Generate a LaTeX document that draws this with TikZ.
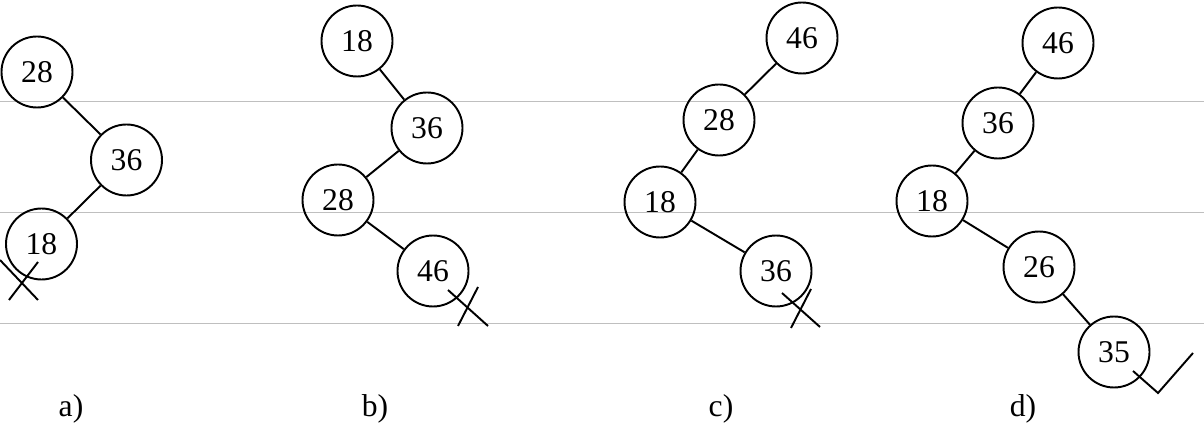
\documentclass[tikz,border=0pt]{standalone}
\usepackage{fontspec}
\setmainfont{Liberation Serif}
\usetikzlibrary{positioning}

\begin{document}
\begin{tikzpicture}[
    line width=1.1pt,
    key/.style={draw, circle, minimum size=1.42cm, inner sep=0pt, font=\fontsize{18}{20}\selectfont},
    edge/.style={line width=1.1pt},
    guide/.style={gray!50, line width=0.5pt},
    cross/.style={line width=1.1pt},
    tag/.style={font=\fontsize{18}{20}\selectfont}
]
    \useasboundingbox (0,0) rectangle (24.08,8.52);

    % lignes horizontales
    \draw[guide] (0,6.50) -- (24.08,6.50);
    \draw[guide] (0,4.28) -- (24.08,4.28);
    \draw[guide] (0,2.06) -- (24.08,2.06);

    % a)
    \node[key] (a28) at (0.74,7.08) {28};
    \node[key] (a36) at (2.53,5.32) {36};
    \node[key] (a18) at (0.83,3.64) {18};
    \draw[edge] (a28) -- (a36);
    \draw[edge] (a36) -- (a18);
    \draw[cross] (0,3.32) -- (0.76,2.52);
    \draw[cross] (0.76,3.28) -- (0.18,2.52);

    % b)
    \node[key] (b18) at (7.14,7.70) {18};
    \node[key] (b36) at (8.54,5.96) {36};
    \node[key] (b28) at (6.76,4.52) {28};
    \node[key] (b46) at (8.66,3.10) {46};
    \draw[edge] (b18) -- (b36);
    \draw[edge] (b36) -- (b28);
    \draw[edge] (b28) -- (b46);
    \draw[cross] (8.96,2.72) -- (9.76,2.00);
    \draw[cross] (9.56,2.78) -- (9.16,2.00);

    % c)
    \node[key] (c46) at (16.04,7.76) {46};
    \node[key] (c28) at (14.38,6.12) {28};
    \node[key] (c18) at (13.20,4.48) {18};
    \node[key] (c36) at (15.52,3.10) {36};
    \draw[edge] (c46) -- (c28);
    \draw[edge] (c28) -- (c18);
    \draw[edge] (c18) -- (c36);
    \draw[cross] (15.64,2.66) -- (16.40,1.98);
    \draw[cross] (16.22,2.74) -- (15.82,1.96);

    % d)
    \node[key] (d46) at (21.16,7.66) {46};
    \node[key] (d36) at (19.96,6.06) {36};
    \node[key] (d18) at (18.64,4.50) {18};
    \node[key] (d26) at (20.78,3.18) {26};
    \node[key] (d35) at (22.28,1.48) {35};
    \draw[edge] (d46) -- (d36);
    \draw[edge] (d36) -- (d18);
    \draw[edge] (d18) -- (d26);
    \draw[edge] (d26) -- (d35);
    \draw[cross] (22.66,1.10) -- (23.16,0.66) -- (23.86,1.46);

    % legendes
    \node[tag] (la) at (1.42,0.34) {a)};
    \node[tag] (lb) at (7.50,0.34) {b)};
    \node[tag] (lc) at (14.42,0.34) {c)};
    \node[tag] (ld) at (20.46,0.34) {d)};
\end{tikzpicture}
\end{document}
